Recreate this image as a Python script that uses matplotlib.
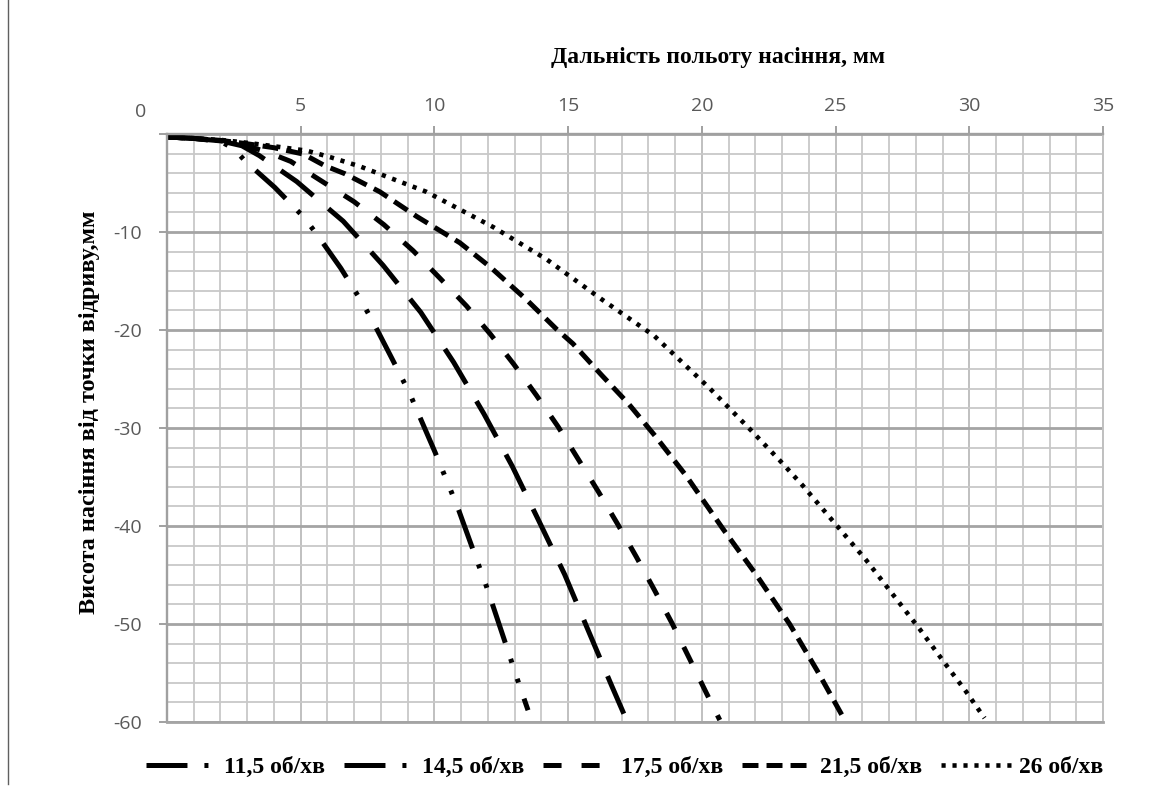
import matplotlib
matplotlib.use('Agg')
import matplotlib.pyplot as plt
from matplotlib.ticker import MultipleLocator
from matplotlib.lines import Line2D
from matplotlib.font_manager import FontProperties
import matplotlib.transforms as mtransforms

plt.rcParams['lines.scale_dashes'] = False

# ---- data ----
x_115 = [0, 1, 2, 2.5, 2.92, 4.03, 5.12, 5.62, 6.5, 7.3, 7.71, 8.4, 9.08, 9.41, 10.02,
         10.6, 10.91, 11.42, 11.95, 12.22, 12.69, 13.17, 13.5]
y_115 = [-0.3, -0.45, -0.75, -1.5, -2.75, -5.45, -8.5, -10.3, -13.7, -17.2, -19.2, -22.85,
         -26.5, -28.6, -32.45, -36.3, -38.4, -42.25, -46.2, -48.4, -52.25, -56.2, -58.8]

x_145 = [0, 1, 2, 2.8, 3.45, 4.85, 6.59, 8.08, 9.49, 10.72, 11.85, 12.91, 13.9, 14.87,
         15.75, 16.62, 17.2]
y_145 = [-0.3, -0.45, -0.7, -1.2, -2.2, -4.85, -8.9, -13.4, -18.2, -23.3, -28.55, -33.9,
         -39.45, -44.95, -50.65, -56.25, -59.9]

x_175 = [0, 1, 2, 3, 3.8, 4.63, 5.75, 6.99, 8.11, 9.2, 10.2, 11.2, 12.1, 12.97, 13.81,
         14.62, 15.37, 16.12, 16.86, 17.55, 18.23, 18.89, 19.55, 20.17, 20.67]
y_175 = [-0.3, -0.45, -0.7, -1.2, -1.9, -2.8, -4.75, -6.9, -9.25, -11.9, -14.7, -17.55,
         -20.45, -23.5, -26.65, -29.85, -33.15, -36.45, -39.85, -43.15, -46.55, -49.95,
         -53.6, -57.05, -59.8]

x_215 = [0, 1, 2, 3, 4, 5.1, 5.91, 6.65, 7.96, 9.33, 10.95, 12.1, 13.44, 14.56, 15.18,
         16.25, 17.25, 18.25, 19.42, 20.79, 22.04, 23.28, 24.3, 25.3]
y_215 = [-0.3, -0.45, -0.65, -1.0, -1.4, -2.05, -3.25, -4.05, -5.9, -8.4, -11.1, -13.6,
         -16.9, -19.9, -21.4, -24.6, -27.5, -30.8, -34.9, -40.3, -45.0, -50.0, -54.7, -59.6]

x_26 = [0, 1, 2, 3, 4, 5.22, 6.15, 7.21, 9.7, 12.2, 14.2, 16.27, 18.22, 20.31, 21.79,
        22.91, 23.78, 25.09, 26.15, 26.89, 28.14, 29.14, 29.88, 30.57]
y_26 = [-0.3, -0.45, -0.6, -0.9, -1.25, -1.7, -2.4, -3.3, -5.9, -9.5, -12.8, -16.9,
        -20.6, -26.0, -30.1, -33.3, -35.9, -40.1, -43.5, -46.1, -50.5, -54.2, -56.9, -59.6]

series_labels = ['11,5 об/хв', '14,5 об/хв', '17,5 об/хв', '21,5 об/хв', '26 об/хв']
x_ticks = [5, 10, 15, 20, 25, 30, 35]
y_ticks = [0, -10, -20, -30, -40, -50, -60]
x_title = 'Дальність польоту насіння, мм'
y_title = 'Висота насіння від точки відриву,мм'

# ---- styles ----
styles = [
    dict(lw=3.6, ls=(0, (29.5, 12.2, 2.9, 12.2, 2.9, 12.2))),
    dict(lw=3.6, ls=(0, (29.5, 14.4))),
    dict(lw=3.6, ls=(0, (13.0, 14.4))),
    dict(lw=3.6, ls=(0, (11.5, 5.8))),
    dict(lw=3.3, ls=(0, (3.0, 4.9))),
]
legend_ls = [
    (0, (29.5, 12.2, 2.9, 40)),
    (0, (29.5, 12.2, 2.9, 40)),
    (0, (13.0, 14.4)),
    (0, (11.5, 5.8)),
    (0, (3.0, 4.9)),
]

fig = plt.figure(figsize=(11.63, 7.94), dpi=100)
fig.patch.set_facecolor('white')
ax = fig.add_axes([167 / 1163, 1 - 722 / 794, (1103 - 167) / 1163, (722 - 134) / 794])
ax.set_xlim(0, 35)
ax.set_ylim(-60, 0)

ax.xaxis.set_minor_locator(MultipleLocator(1))
ax.yaxis.set_minor_locator(MultipleLocator(2))
ax.set_xticks(x_ticks)
ax.set_xticklabels([str(v) for v in x_ticks])
ax.set_yticks(y_ticks)
ax.set_yticklabels([str(v) for v in y_ticks])

ax.grid(which='minor', color='#c8c8c8', lw=1.3)
ax.grid(which='major', axis='x', color='#c0c0c0', lw=1.4)
ax.grid(which='major', axis='y', color='#a4a4a4', lw=2.0)
ax.set_axisbelow(True)

for s, c, w in [('top', '#a0a0a0', 1.7), ('left', '#a0a0a0', 1.7),
                ('bottom', '#a4a4a4', 2.0), ('right', '#c0c0c0', 1.4)]:
    ax.spines[s].set_color(c)
    ax.spines[s].set_linewidth(w)

tick_font = FontProperties(family='Open Sans', size=14)
ax.tick_params(axis='x', which='major', top=True, bottom=False, labeltop=True,
               labelbottom=False, direction='out', length=6, width=1.4,
               color='#a0a0a0', labelcolor='#595959', pad=7.5)
ax.tick_params(axis='y', which='major', left=True, direction='out', length=6,
               width=1.4, color='#a0a0a0', labelcolor='#595959', pad=12)
ax.tick_params(which='minor', length=0)
for lab in ax.get_xticklabels() + ax.get_yticklabels():
    lab.set_fontproperties(tick_font)

# the "0" label sits above the corner in the reference
lab0 = ax.get_yticklabels()[0]
lab0.set_transform(lab0.get_transform() +
                   mtransforms.ScaledTranslation(3 / 72, 17 / 72, fig.dpi_scale_trans))

xs = [x_115, x_145, x_175, x_215, x_26]
ys = [y_115, y_145, y_175, y_215, y_26]
for xv, yv, st, lbl in zip(xs, ys, styles, series_labels):
    ax.plot(xv, yv, color='black', lw=st['lw'], linestyle=st['ls'],
            dash_capstyle='butt', solid_capstyle='butt', label=lbl, clip_on=True)

title_font = FontProperties(family='Liberation Serif', weight='bold', size=17)
fig.text(718 / 1163, 1 - 57 / 794, x_title, fontproperties=title_font,
         ha='center', va='center', color='black')
fig.text(90 / 1163, 1 - 412 / 794, y_title,
         fontproperties=FontProperties(family='Liberation Serif', weight='bold', size=17.5),
         ha='center', va='center', rotation=90, color='black')

handles = [Line2D([], [], color='black', lw=st['lw'], linestyle=ls, dash_capstyle='butt')
           for st, ls in zip(styles, legend_ls)]
fig.legend(handles, series_labels, ncol=5, loc='center',
           bbox_to_anchor=(625 / 1163, 1 - 767 / 794), frameon=False,
           handlelength=3.0, handletextpad=0.3, columnspacing=0.8,
           prop=FontProperties(family='Liberation Serif', weight='bold', size=17))

# page border line at the left
fig.add_artist(Line2D([8 / 1163, 8 / 1163], [0.012, 1.0], transform=fig.transFigure,
                      color='#606060', lw=1.0))

fig.savefig('out.png', dpi=100, facecolor='white')
